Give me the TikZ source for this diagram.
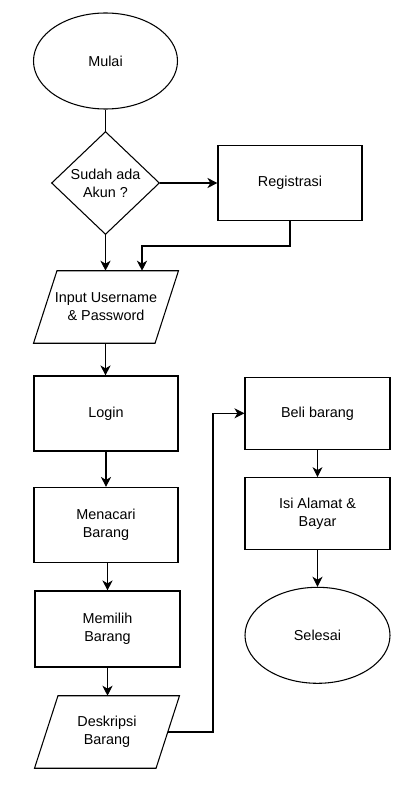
\documentclass[tikz,border=0pt]{standalone}
\usepackage{fontspec}
\setmainfont{Liberation Sans}
\usetikzlibrary{shapes.geometric,arrows.meta}
\begin{document}
\begin{tikzpicture}[x=0.75pt,y=-0.75pt,
  every node/.style={font=\fontsize{10.8}{13.5}\selectfont, align=center, text=black},
  ln/.style={line width=0.8pt, draw=black},
  arr/.style={ln, -{Stealth[length=7.5pt,width=7.5pt,inset=2.2pt]}},
  box/.style={ln, rectangle, minimum width=108pt, minimum height=56.25pt, inner sep=0pt},
  term/.style={ln, ellipse, minimum width=108pt, minimum height=72pt, inner sep=0pt},
  dec/.style={ln, diamond, minimum width=81pt, minimum height=77.25pt, inner sep=0pt},
  iobox/.style={rectangle, minimum width=90.75pt, minimum height=54pt, inner sep=0pt}
]
\useasboundingbox (0,0) rectangle (412,799);

\node[term] (mulai) at (105.5,61) {Mulai};
\node[dec] (akun) at (105.5,183) {Sudah ada\\Akun ?};
\node[box] (reg) at (290,183) {Registrasi};
\node[iobox] (input) at (106,307) {Input Username\\\& Password};
\draw[ln] ([xshift=-8.8pt]input.south west) -- ([xshift=-8.8pt]input.south east)
  -- ([xshift=8.8pt]input.north east) -- ([xshift=8.8pt]input.north west) -- cycle;
\node[box] (login) at (106,413.5) {Login};
\node[box] (cari) at (106,525) {Menacari\\Barang};
\node[box, minimum width=108.75pt, minimum height=57pt] (pilih) at (107.5,629) {Memilih\\Barang};
\node[iobox] (desk) at (107,732) {Deskripsi\\Barang};
\draw[ln] ([xshift=-8.8pt]desk.south west) -- ([xshift=-8.8pt]desk.south east)
  -- ([xshift=8.8pt]desk.north east) -- ([xshift=8.8pt]desk.north west) -- cycle;
\node[box, minimum width=108.75pt, minimum height=54pt] (beli) at (317.5,413.3) {Beli barang};
\node[box, minimum width=108.75pt, minimum height=54pt] (isi) at (317.5,513.7) {Isi Alamat \&\\Bayar};
\node[term, minimum width=108.75pt] (selesai) at (317.5,635.3) {Selesai};

\coordinate (r1) at (290,246);
\coordinate (r2) at (142,246);
\coordinate (d1) at (213,732);

\draw[ln] (mulai.south) -- (akun.north);
\draw[arr] (akun.east) -- (reg.west);
\draw[arr] (akun.south) -- (akun.south |- input.north);
\draw[arr] (reg.south) -- (r1) -- (r2) -- (r2 |- input.north);
\draw[arr] (input.south -| akun.south) -- (login.north -| akun.south);
\draw[arr] (login.south) -- (cari.north);
\draw[arr] (cari.south -| pilih.north) -- (pilih.north);
\draw[arr] (pilih.south) -- (pilih.south |- desk.north);
\draw[arr] (desk.east) -- (d1) |- (beli.west);
\draw[arr] (beli.south) -- (isi.north);
\draw[arr] (isi.south) -- (selesai.north);
\end{tikzpicture}
\end{document}
